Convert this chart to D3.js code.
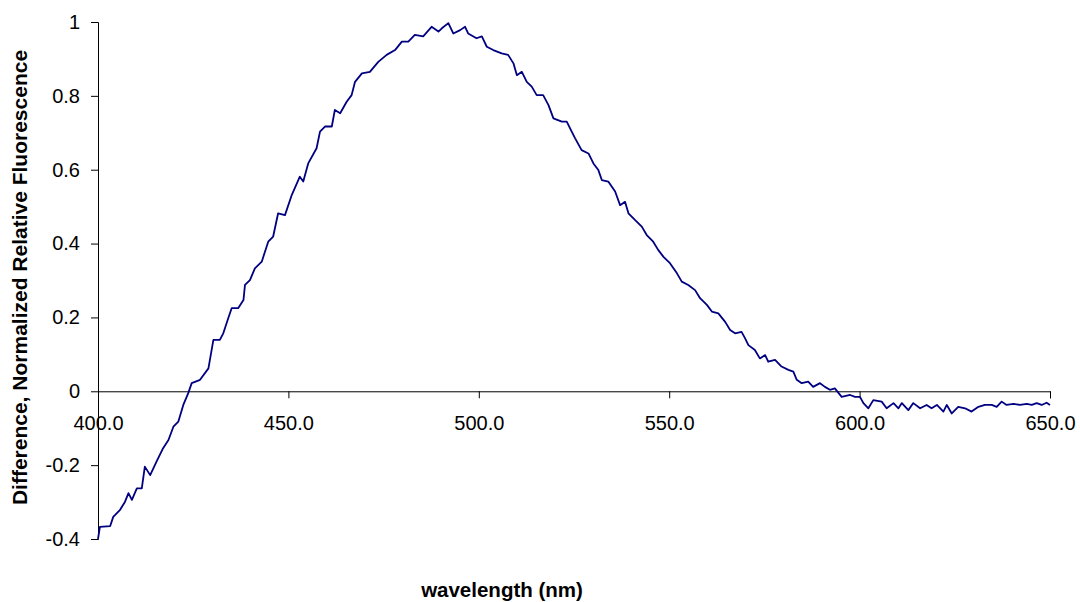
<!DOCTYPE html>
<html>
<head>
<meta charset="utf-8">
<script src="https://cdn.jsdelivr.net/npm/d3@7"></script>
<style>
  body { margin: 0; background: #fff; }
  text { font-family: "Liberation Sans", Arial, sans-serif; }
</style>
</head>
<body>
<div class="chart"></div>
<script>
// values
const wavelength = [
  400.0, 400.5, 403.2, 404.0, 405.8, 407.1, 408.0, 408.9, 410.2, 411.5,
  412.3, 413.7, 415.4, 417.1, 418.5, 419.8, 421.1, 422.4, 423.7, 424.6,
  426.8, 429.0, 430.3, 432.0, 432.9, 434.2, 435.1, 436.8, 438.2, 438.6,
  439.9, 441.2, 443.0, 444.7, 446.0, 447.3, 449.1, 450.9, 453.0, 453.9,
  455.2, 457.4, 458.3, 459.6, 461.4, 462.2, 463.6, 465.3, 466.6, 467.5,
  469.3, 471.4, 473.6, 475.8, 478.0, 479.8, 481.5, 483.2, 485.4, 487.6,
  489.4, 490.3, 492.0, 493.3, 495.1, 496.4, 497.2, 499.4, 500.8, 502.1,
  503.8, 506.0, 507.7, 509.1, 510.0, 511.3, 512.6, 513.9, 515.2, 516.9,
  518.3, 519.6, 521.8, 523.1, 524.4, 525.3, 527.0, 528.8, 530.1, 531.4,
  532.3, 534.0, 535.8, 537.1, 538.4, 539.3, 541.0, 542.8, 544.1, 545.8,
  547.1, 548.5, 550.2, 552.0, 553.3, 555.0, 556.8, 558.1, 559.9, 561.2,
  562.9, 564.7, 566.0, 567.3, 569.0, 569.9, 570.8, 572.5, 573.8, 575.2,
  576.0, 577.8, 579.5, 581.3, 582.6, 583.5, 584.8, 586.5, 587.8, 589.6,
  590.9, 592.2, 593.5, 595.3, 597.5, 598.8, 600.1, 601.0, 602.3, 603.6,
  605.8, 607.1, 608.9, 610.2, 611.1, 612.8, 614.1, 615.9, 617.6, 618.9,
  620.3, 622.0, 622.9, 624.2, 625.9, 627.7, 629.4, 631.2, 632.9, 634.7,
  636.0, 637.3, 638.6, 640.4, 642.1, 643.9, 645.2, 646.5, 647.8, 649.1,
  650.0
];
const signal = [
  -0.400, -0.367, -0.365, -0.340, -0.321, -0.299, -0.276, -0.294, -0.263, -0.263,
  -0.204, -0.227, -0.190, -0.154, -0.132, -0.096, -0.082, -0.037, -0.005, 0.022,
  0.031, 0.062, 0.139, 0.139, 0.157, 0.198, 0.225, 0.225, 0.247, 0.288,
  0.301, 0.333, 0.351, 0.405, 0.419, 0.482, 0.477, 0.532, 0.581, 0.568,
  0.617, 0.658, 0.703, 0.717, 0.717, 0.762, 0.753, 0.784, 0.802, 0.838,
  0.861, 0.865, 0.892, 0.911, 0.924, 0.947, 0.947, 0.965, 0.961, 0.987,
  0.974, 0.983, 0.997, 0.969, 0.978, 0.987, 0.969, 0.956, 0.961, 0.933,
  0.924, 0.915, 0.911, 0.888, 0.856, 0.865, 0.838, 0.825, 0.802, 0.802,
  0.775, 0.739, 0.730, 0.730, 0.703, 0.685, 0.653, 0.644, 0.617, 0.599,
  0.572, 0.568, 0.541, 0.504, 0.513, 0.482, 0.464, 0.446, 0.423, 0.405,
  0.383, 0.364, 0.347, 0.320, 0.297, 0.288, 0.274, 0.252, 0.234, 0.216,
  0.211, 0.188, 0.166, 0.157, 0.161, 0.144, 0.125, 0.112, 0.089, 0.098,
  0.080, 0.085, 0.067, 0.058, 0.053, 0.031, 0.022, 0.026, 0.012, 0.022,
  0.012, 0.004, 0.008, -0.015, -0.010, -0.015, -0.015, -0.032, -0.046, -0.024,
  -0.028, -0.046, -0.032, -0.046, -0.032, -0.051, -0.032, -0.046, -0.037, -0.046,
  -0.037, -0.055, -0.037, -0.060, -0.042, -0.046, -0.055, -0.042, -0.037, -0.037,
  -0.042, -0.028, -0.037, -0.034, -0.037, -0.034, -0.037, -0.032, -0.037, -0.031,
  -0.037
];
const xTicks = [400, 450, 500, 550, 600, 650];
const yTicks = [-0.4, -0.2, 0, 0.2, 0.4, 0.6, 0.8, 1];

const width = 1080, height = 602;
const margin = {top: 22, left: 98, right: 30, bottom: 63};

const svg = d3.select('.chart').append('svg')
    .attr('width', width)
    .attr('height', height);

const x = d3.scaleLinear()
    .domain([400, 650])
    .range([margin.left, width - margin.right]);

const y = d3.scaleLinear()
    .domain([-0.4, 1])
    .range([height - margin.bottom, margin.top]);

// y axis
svg.append('g')
    .attr('transform', `translate(${margin.left},0)`)
    .call(d3.axisLeft(y).tickValues(yTicks).tickSize(7).tickPadding(11)
        .tickFormat(d => String(+d.toFixed(1))));

// x axis sits on y = 0
svg.append('g')
    .attr('transform', `translate(0,${y(0)})`)
    .call(d3.axisBottom(x).tickValues(xTicks).tickSize(7).tickPadding(18)
        .tickFormat(d3.format('.1f')));

svg.selectAll('.tick text')
    .attr('font-family', '"Liberation Sans", Arial, sans-serif')
    .attr('font-size', 20)
    .attr('fill', '#000');
svg.selectAll('.domain, .tick line').attr('stroke', '#000');

const line = d3.line()
    .x((d, i) => x(wavelength[i]))
    .y(d => y(d));

svg.append('path')
    .datum(signal)
    .attr('d', line)
    .attr('fill', 'none')
    .attr('stroke', '#000080')
    .attr('stroke-width', 1.8)
    .attr('stroke-linejoin', 'round');

svg.append('text')
    .attr('transform', `translate(27,${(y(1) + y(-0.4)) / 2 - 3}) rotate(-90)`)
    .attr('text-anchor', 'middle')
    .attr('font-size', 21)
    .attr('font-weight', 'bold')
    .text('Difference, Normalized Relative Fluorescence');

svg.append('text')
    .attr('x', 502)
    .attr('y', 597)
    .attr('text-anchor', 'middle')
    .attr('font-size', 20.5)
    .attr('font-weight', 'bold')
    .text('wavelength (nm)');
</script>
</body>
</html>
